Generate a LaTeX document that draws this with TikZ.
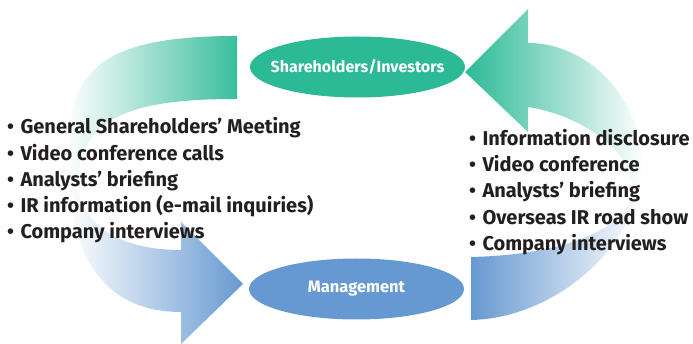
\documentclass[tikz,border=0pt]{standalone}
\usepackage{fontspec}
\setmainfont{Fira Sans}
\usetikzlibrary{shapes.geometric}
\definecolor{irgreen}{HTML}{2CB996}
\definecolor{irblue}{HTML}{6699D1}
\definecolor{irtext}{HTML}{231F20}
\tikzset{
  hub/.style={ellipse, inner sep=0pt, minimum width=215pt, minimum height=61pt},
  hubtext/.style={inner sep=0pt, text=white, font=\bfseries\fontsize{16}{19}\selectfont},
  item/.style={anchor=base west, inner sep=0pt, text=irtext, font=\bfseries\fontsize{20}{24}\selectfont}
}
\newcommand{\bul}{•\hspace{0.32em}}
\begin{document}
\begin{tikzpicture}[x=1pt,y=-1pt]
\useasboundingbox (0,0) rectangle (693,344);
% left band (green -> white -> blue)
\begin{scope}
\clip (237,36) .. controls (100,36) and (66,70) .. (68,160)
      .. controls (68,265) and (110,312) .. (181,312)
      -- (181,344) -- (243,284) -- (181,222) -- (181,250)
      .. controls (120,250) and (78,225) .. (78,180)
      .. controls (80,110) and (150,99) .. (237,99) -- cycle;
\shade[left color=white, right color=irgreen!95] (66,0) rectangle (240,180);
\shade[left color=white, right color=irblue] (66,180) rectangle (244,344);
\end{scope}
% right band (blue -> white -> green)
\begin{scope}
\clip (471,257) -- (471,320)
      .. controls (560,318) and (642,240) .. (642,165)
      .. controls (642,100) and (590,43) .. (528,43)
      -- (528,9) -- (465,72) -- (528,132) -- (528,107)
      .. controls (580,115) and (632,150) .. (632,188)
      .. controls (632,230) and (560,255) .. (471,257) -- cycle;
\shade[left color=irgreen, right color=white] (465,0) rectangle (644,185);
\shade[left color=irblue, right color=white] (470,185) rectangle (644,344);
\end{scope}
% hubs
\node[hub, fill=irgreen] (sh) at (357.5,67) {};
\node[hubtext] (shl) at (sh.center) {Shareholders/Investors};
\node[hub, fill=irblue] (mg) at (356.5,289) {};
\node[hubtext, font=\bfseries\fontsize{16.5}{19}\selectfont] (mgl) at (mg.center) {Management};
% left list
\node[item] (l1) at (7,134) {\bul General Shareholders’ Meeting};
\node[item] (l2) at (7,160.2) {\bul Video conference calls};
\node[item] (l3) at (7,186.4) {\bul Analysts’ briefing};
\node[item] (l4) at (7,212.6) {\bul IR information (e-mail inquiries)};
\node[item] (l5) at (7,238.8) {\bul Company interviews};
% right list
\node[item] (r1) at (469,145.5) {\bul Information disclosure};
\node[item] (r2) at (469,171.7) {\bul Video conference};
\node[item] (r3) at (469,197.9) {\bul Analysts’ briefing};
\node[item] (r4) at (469,224.1) {\bul Overseas IR road show};
\node[item] (r5) at (469,250.3) {\bul Company interviews};
\end{tikzpicture}
\end{document}
